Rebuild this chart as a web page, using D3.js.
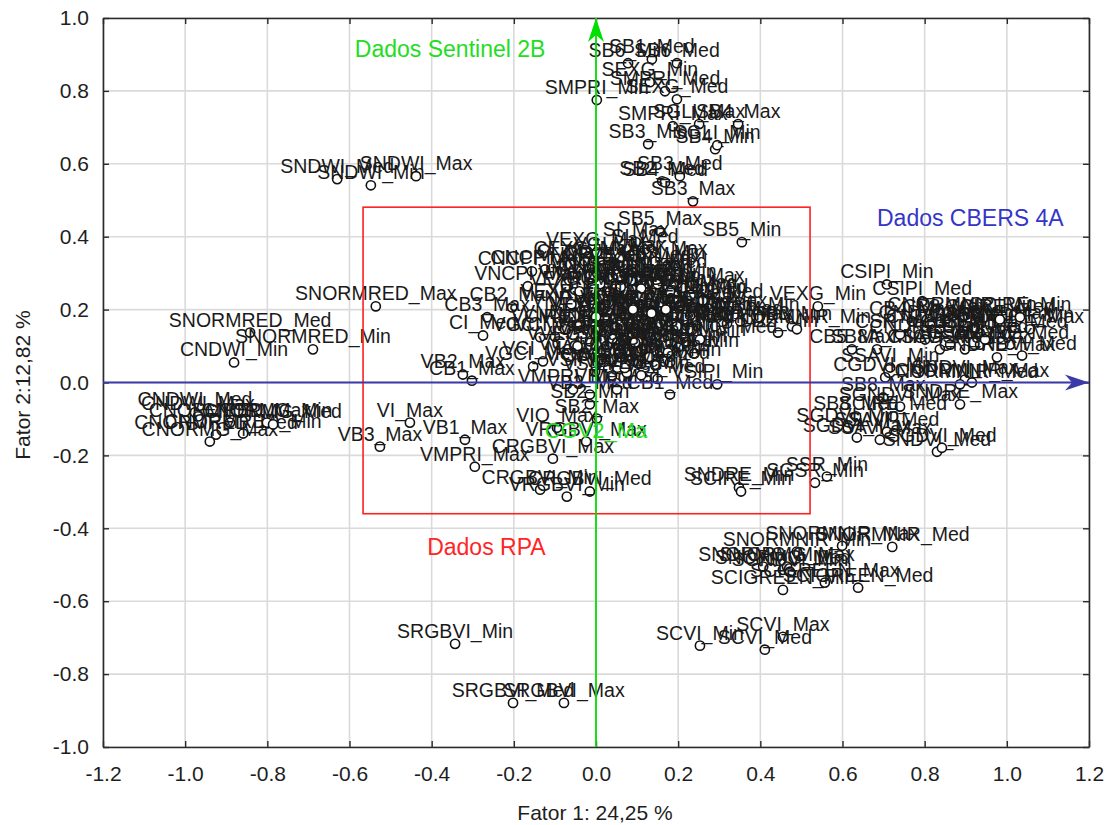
<!DOCTYPE html>
<html>
<head>
<meta charset="utf-8">
<script src="https://cdn.jsdelivr.net/npm/d3@7"></script>
<style>
body { margin:0; background:#fff; }
text { font-family: "Liberation Sans", Arial, sans-serif; }
</style>
</head>
<body>
<svg id="svg"></svg>
<script>
// variable loadings (Fator 1, Fator 2)
var sentinelNames = ["SB6_Min","SB6_Med","SB1_Med","SEXG_Min","SMPRI_Med","SEXG_Med","SMPRI_Min","SMPRI_Max","SGLI_Max","SB4_Max",
  "SB3_Min","SB4_Min","SGLI_Min","SB2_Med","SB4_Med","SB3_Med","SB3_Max","SNDWI_Med","SNDWI_Min","SNDWI_Max",
  "SNORMRED_Max","SNORMRED_Med","SNORMRED_Min","SB2_Max","SB2_Min","SB5_Max","SB5_Min","SI_Max","SI_Med","SI_Min",
  "SB8A_Min","SSAVI_Min","SNDVI_Max","SB8_Max","SGNDVI_Max","SNDRE_Max","SB8_Med","SCIRE_Med","SGDVI_Min","SGDVI_Max",
  "SSAVI_Max","SSAVI_Med","SNDVI_Med","SGDVI_Med","SNDRE_Min","SCIRE_Min","SGSR_Min","SSR_Min","SNORMNIR_Max","SNORMNIR_Med",
  "SNORMNIR_Min","SNORMG_Min","SNORMG_Med","SNORMG_Max","SGNDVI_Min","SCIGREEN_Max","SCIGREEN_Min","SCIGREEN_Med","SCVI_Min","SCVI_Max",
  "SCVI_Med","SRGBVI_Min","SRGBVI_Med","SRGBVI_Max"];
var sentinelX = [0.078,0.197,0.136,0.131,0.168,0.197,0.002,0.187,0.251,0.346,
  0.127,0.290,0.295,0.161,0.168,0.204,0.236,-0.630,-0.548,-0.438,
  -0.536,-0.842,-0.689,0.002,-0.015,0.156,0.355,0.097,0.119,0.192,
  0.684,0.716,0.898,0.699,0.740,0.886,0.633,0.723,0.613,0.635,
  0.691,0.708,0.830,0.842,0.348,0.353,0.533,0.562,0.599,0.721,
  0.489,0.407,0.455,0.465,0.472,0.557,0.455,0.638,0.253,0.455,
  0.411,-0.343,-0.202,-0.078];
var sentinelY = [0.876,0.876,0.887,0.824,0.799,0.777,0.775,0.703,0.709,0.709,
  0.654,0.640,0.651,0.552,0.549,0.566,0.497,0.558,0.541,0.566,
  0.209,0.137,0.091,-0.099,-0.060,0.415,0.385,0.385,0.365,0.321,
  0.091,0.041,0.008,-0.041,-0.066,-0.060,-0.093,-0.093,-0.124,-0.151,
  -0.157,-0.135,-0.190,-0.179,-0.288,-0.299,-0.275,-0.258,-0.448,-0.451,
  -0.464,-0.505,-0.514,-0.505,-0.519,-0.549,-0.569,-0.563,-0.722,-0.698,
  -0.733,-0.717,-0.879,-0.879];

var cbersNames = ["CNDWI_Min","CNDWI_Med","CNDWI_Max","CNORMRED_Max","CNORMRED_Min","CNORMRED_Med","CNORMG_Max","CNORMG_Min","CNORMG_Med","CRGBVI_Max",
  "CRGBVI_Min","CRGBVI_Med","CB1_Max","CNCPI_Max","CNCPI_Med","CB2_Max","CB3_Max","CI_Med","CGLI_Max","CVARI_Max",
  "CGLI_Med","CEXG_Max","CI_Max","CEXG_Min","CGLI_Min","CVARI_Min","CEXG_Med","CVARI_Med","CB1_Med","CB4_Min",
  "CB2_Min","CB3_Min","CB4_Med","CB2_Med","CB3_Med","CSIPI_Min","CSIPI_Med","CB4_Max","CNORMNIR_Min","CB8_Max",
  "CNDVI_Min","CNDVI_Max","CB8_Min","CB5_Med","CGNDVI_Max","CGNDVI_Min","CGNDVI_Med","CCIRE_Max","CNDRE_Min","CSR_Max",
  "CSAVI_Max","CNDRE_Med","CGSR_Max","CSAVI_Med","CNDRE_Max","CNDVI_Med","CB8_Med","CCIRE_Med","CCIRE_Min","CSR_Med",
  "CB5_Max","CGDVI_Min","CNORMNIR_Med","CNORMNIR_Max","CNGRDI_Max","CNGRDI_Med","CNGRDI_Min","CTGI_Max","CTGI_Med","CTGI_Min"];
var cbersX = [-0.881,-0.976,-0.969,-0.891,-0.859,-0.925,-0.940,-0.801,-0.786,-0.105,
  -0.136,-0.015,-0.302,-0.156,-0.124,-0.204,-0.265,-0.275,0.034,0.127,
  0.156,-0.027,-0.063,0.088,0.034,0.131,0.058,0.107,0.180,0.319,
  0.443,0.477,0.229,0.265,0.302,0.708,0.794,0.769,0.891,0.850,
  0.813,0.837,0.886,0.923,0.959,1.020,0.996,1.056,0.801,0.862,
  0.935,1.008,0.898,0.837,0.976,1.037,0.947,0.983,1.032,0.740,
  0.623,0.704,0.886,0.915,0.210,0.060,0.220,0.030,0.150,0.240];
var cbersY = [0.055,-0.082,-0.093,-0.110,-0.140,-0.143,-0.162,-0.110,-0.115,-0.209,
  -0.294,-0.299,0.005,0.305,0.310,0.206,0.179,0.129,0.321,0.305,
  0.299,0.332,0.324,0.255,0.250,0.242,0.223,0.214,-0.033,0.162,
  0.137,0.154,0.146,0.228,0.214,0.269,0.223,0.168,0.179,0.173,
  0.159,0.146,0.132,0.151,0.159,0.151,0.132,0.146,0.118,0.104,
  0.104,0.104,0.091,0.091,0.069,0.074,0.118,0.173,0.179,0.132,
  0.091,0.014,-0.005,0.000,0.260,0.290,0.110,0.040,0.010,0.080];

var rpaNames = ["VI_Max","VB3_Max","VB1_Max","VMPRI_Max","VRGBVI_Min","VIO_Max","VRGBVI_Max","VB2_Max","VNCPI_Max","VNCPI_Med",
  "VGCI_Max","VCI_Max","VGCI_Med","VCI_Med","VEXG_Max","VGLI_Max","VVARI_Max","VEXG_Med","VGLI_Min","VVARI_Min",
  "VGLI_Med","VVARI_Med","VB4_Max","VB4_Med","VB4_Min","VB5_Max","VB5_Med","VB5_Min","VNDVI_Max","VNDVI_Med",
  "VNDVI_Min","VGNDVI_Max","VGNDVI_Med","VGNDVI_Min","VNDRE_Max","VNDRE_Med","VNDRE_Min","VSAVI_Max","VSAVI_Med","VSAVI_Min",
  "VSR_Max","VSR_Med","VSR_Min","VGSR_Max","VGSR_Med","VGSR_Min","VCVI_Max","VCVI_Med","VCVI_Min","VGDVI_Max",
  "VGDVI_Med","VGDVI_Min","VSIPI_Max","VSIPI_Med","VSIPI_Min","VMPRI_Med","VB3_Med","VB1_Med","VB2_Med","VCIRE_Max",
  "VNORMNIR_Max","VNORMNIR_Min","VCIRE_Min","VEXG_Min","VCIRE_Med","VNORMNIR_Med",
  "VNGRDI_Max","VNGRDI_Med","VNGRDI_Min","VMGRVI_Max","VMGRVI_Med","VMGRVI_Min","VTGI_Max","VTGI_Med","VTGI_Min","VEXR_Max",
  "VEXR_Med","VEXR_Min","VCIVE_Max","VCIVE_Med","VCIVE_Min","VGRRI_Max","VGRRI_Med","VGRRI_Min","VVEG_Max","VVEG_Med","VVEG_Min"];
var rpaX = [-0.453,-0.526,-0.319,-0.295,-0.071,-0.095,-0.024,-0.324,-0.166,-0.010,
  -0.136,-0.100,-0.153,-0.129,0.002,0.058,0.144,0.107,-0.015,0.168,
  0.010,0.204,0.253,0.278,0.229,0.314,0.351,0.399,-0.027,0.022,
  0.071,0.119,0.156,0.192,-0.039,0.005,0.046,0.088,0.131,0.175,
  -0.015,0.027,0.071,0.112,0.156,0.200,-0.027,0.015,0.058,0.102,
  0.144,0.180,-0.002,0.039,0.295,-0.056,-0.015,0.051,0.075,0.197,
  0.290,0.489,0.175,0.540,-0.075,0.253,
  0.040,0.085,0.150,0.010,0.060,0.110,0.180,0.230,0.260,-0.040,
  -0.060,0.000,0.090,0.135,0.170,0.040,0.095,0.130,-0.045,0.070,0.110];
var rpaY = [-0.110,-0.176,-0.157,-0.231,-0.313,-0.124,-0.162,0.022,0.264,0.316,
  0.124,0.126,0.044,0.058,0.357,0.343,0.332,0.316,0.234,0.228,
  0.206,0.212,0.201,0.179,0.184,0.190,0.168,0.179,0.195,0.179,
  0.187,0.173,0.162,0.151,0.159,0.146,0.151,0.135,0.124,0.129,
  0.113,0.102,0.107,0.091,0.085,0.096,0.074,0.063,0.069,0.052,
  0.047,0.055,0.030,0.019,-0.005,-0.019,-0.033,-0.019,0.027,0.154,
  0.154,0.146,0.082,0.209,0.146,0.118,
  0.290,0.280,0.270,0.270,0.262,0.258,0.250,0.240,0.225,0.250,
  0.215,0.180,0.200,0.190,0.200,0.120,0.110,0.070,0.100,0.040,0.020];

var xTicks = [-1.2,-1.0,-0.8,-0.6,-0.4,-0.2,0.0,0.2,0.4,0.6,0.8,1.0,1.2];
var yTicks = [-1.0,-0.8,-0.6,-0.4,-0.2,0.0,0.2,0.4,0.6,0.8,1.0];
var xTitle = "Fator 1: 24,25 %";
var yTitle = "Fator 2:12,82 %";

// rectangle around the RPA variables, in factor units
var rpaBox = [-0.567, 0.521, 0.481, -0.360];

var w = 1110, h = 825;
var m = {top: 18, right: 21, bottom: 78, left: 103};
var iw = w - m.left - m.right, ih = h - m.top - m.bottom;

function pack(names, xs, ys)
{
    return names.map(function(n, i){ return {name: n, x: xs[i], y: ys[i]}; });
}

function init()
{
    var svg = d3.select("#svg").attr("width", w).attr("height", h);
    var x = d3.scaleLinear().domain([-1.2, 1.2]).range([0, iw]);
    var y = d3.scaleLinear().domain([-1, 1]).range([ih, 0]);
    var fmt = function(d){ return d.toFixed(1); };

    var defs = svg.append("defs");
    [["arrG", "#00e000"], ["arrB", "#3a3aa8"]].forEach(function(a){
        defs.append("marker").attr("id", a[0])
            .attr("markerUnits", "userSpaceOnUse")
            .attr("viewBox", "-24 -9 26 18")
            .attr("markerWidth", 26).attr("markerHeight", 18)
            .attr("refX", 0).attr("refY", 0)
            .attr("orient", "auto")
            .append("path").attr("d", "M0,0 L-24,-8 L-17,0 L-24,8 Z")
            .attr("fill", a[1]);
    });

    var g = svg.append("g").attr("transform", "translate(" + m.left + "," + m.top + ")");

    // grid
    g.append("g").selectAll("line").data(xTicks).enter().append("line")
        .attr("x1", x).attr("x2", x).attr("y1", 0).attr("y2", ih)
        .attr("stroke", "#dadada").attr("stroke-width", 1.6);
    g.append("g").selectAll("line").data(yTicks).enter().append("line")
        .attr("y1", y).attr("y2", y).attr("x1", 0).attr("x2", iw)
        .attr("stroke", "#dadada").attr("stroke-width", 1.6);

    // axes, ticks pointing inside
    var ax = g.append("g").attr("transform", "translate(0," + ih + ")")
        .call(d3.axisBottom(x).tickValues(xTicks).tickFormat(fmt).tickSizeInner(-6).tickSizeOuter(0).tickPadding(19));
    var ay = g.append("g")
        .call(d3.axisLeft(y).tickValues(yTicks).tickFormat(fmt).tickSizeInner(-6).tickSizeOuter(0).tickPadding(14));
    g.append("g").call(d3.axisTop(x).tickValues(xTicks).tickFormat("").tickSizeInner(-6).tickSizeOuter(0));
    g.append("g").attr("transform", "translate(" + iw + ",0)")
        .call(d3.axisRight(y).tickValues(yTicks).tickFormat("").tickSizeInner(-6).tickSizeOuter(0));
    g.selectAll(".domain").attr("stroke", "#2a2a2a").attr("stroke-width", 1.6);
    g.selectAll(".tick line").attr("stroke", "#2a2a2a").attr("stroke-width", 1.4);
    [ax, ay].forEach(function(a){
        a.selectAll("text").attr("font-size", "21px").attr("fill", "#1e1e1e")
            .style("font-family", "'Liberation Sans', Arial, sans-serif");
    });

    svg.append("text").attr("x", 595).attr("y", 820).attr("text-anchor", "middle")
        .attr("font-size", "21px").attr("fill", "#1e1e1e").text(xTitle);
    svg.append("text").attr("transform", "translate(30,385) rotate(-90)").attr("text-anchor", "middle")
        .attr("font-size", "21px").attr("fill", "#1e1e1e").text(yTitle);

    var pts = pack(sentinelNames, sentinelX, sentinelY)
        .concat(pack(cbersNames, cbersX, cbersY))
        .concat(pack(rpaNames, rpaX, rpaY));

    // each variable: marker then its label, so later labels sit over earlier markers
    var pt = g.append("g").selectAll("g").data(pts).enter().append("g")
        .attr("transform", function(d){ return "translate(" + x(d.x) + "," + y(d.y) + ")"; });
    pt.append("circle")
        .attr("r", 4.6)
        .attr("fill", "#fff").attr("stroke", "#111").attr("stroke-width", 1.6);
    pt.append("text")
        .attr("y", -6)
        .attr("text-anchor", "middle")
        .attr("font-size", "19.5px")
        .attr("fill", "#1a1a1a")
        .text(function(d){ return d.name; });

    // RPA box and the two sensor vectors
    g.append("rect")
        .attr("x", x(rpaBox[0])).attr("y", y(rpaBox[2]))
        .attr("width", x(rpaBox[1]) - x(rpaBox[0]))
        .attr("height", y(rpaBox[3]) - y(rpaBox[2]))
        .attr("fill", "none").attr("stroke", "#ff2020").attr("stroke-width", 1.6);

    g.append("line")
        .attr("x1", x(0)).attr("x2", x(0)).attr("y1", y(-1)).attr("y2", y(1))
        .attr("stroke", "#00e000").attr("stroke-width", 1.8).attr("marker-end", "url(#arrG)");
    g.append("line")
        .attr("x1", x(-1.2)).attr("x2", x(1.2)).attr("y1", y(0)).attr("y2", y(0))
        .attr("stroke", "#3a3aa8").attr("stroke-width", 1.8).attr("marker-end", "url(#arrB)");

    g.append("text").attr("x", x(-0.587)).attr("y", y(0.893))
        .attr("font-size", "23px").attr("fill", "#22dd22").text("Dados Sentinel 2B");
    g.append("text").attr("x", x(0.684)).attr("y", y(0.429))
        .attr("font-size", "23px").attr("fill", "#3535c8").text("Dados CBERS 4A");
    g.append("text").attr("x", x(-0.411)).attr("y", y(-0.473))
        .attr("font-size", "23px").attr("fill", "#ff2525").text("Dados RPA");
    g.append("text").attr("x", x(0)).attr("y", y(-0.151)).attr("text-anchor", "middle")
        .attr("font-size", "22px").attr("fill", "#22dd22").text("CGV2_Ma");
}

init();
</script>
</body>
</html>
